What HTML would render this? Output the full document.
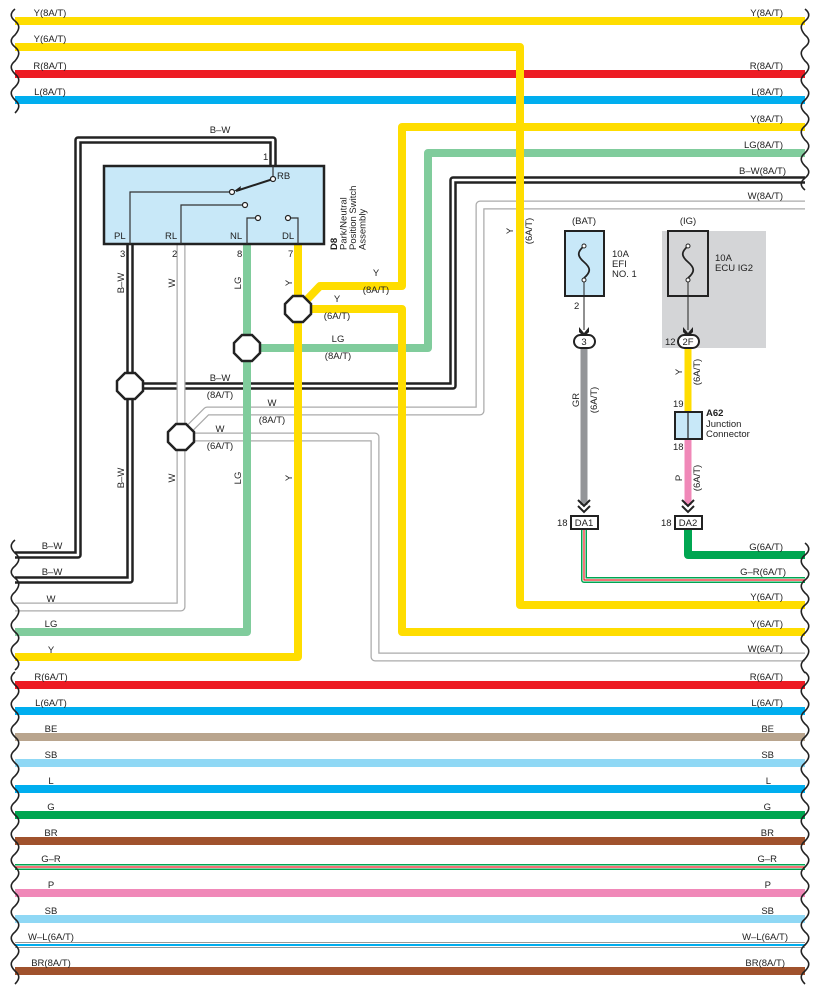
<!DOCTYPE html>
<html><head><meta charset="utf-8"><style>
body{margin:0;background:#fff}
svg{display:block}
text{font-family:"Liberation Sans",sans-serif;font-size:9.5px;fill:#222}
.b{font-weight:bold}
</style></head><body>
<svg width="817" height="993" viewBox="0 0 817 993" xmlns="http://www.w3.org/2000/svg">
<g fill="none" stroke-linejoin="round">
<path d="M15,21H805" stroke="#ffdd00" stroke-width="8"/>
<path d="M15,74H805" stroke="#ed1c24" stroke-width="8"/>
<path d="M15,100H805" stroke="#00aeef" stroke-width="8"/>
<path d="M15,685H805" stroke="#ed1c24" stroke-width="8"/>
<path d="M15,711H805" stroke="#00aeef" stroke-width="8"/>
<path d="M15,737H805" stroke="#b9a58e" stroke-width="8"/>
<path d="M15,763H805" stroke="#8fd8f5" stroke-width="8"/>
<path d="M15,789H805" stroke="#00aeef" stroke-width="8"/>
<path d="M15,815H805" stroke="#00a651" stroke-width="8"/>
<path d="M15,841H805" stroke="#a0522d" stroke-width="8"/>
<path d="M15,867H805" stroke="#00a651" stroke-width="6"/>
<path d="M15,867H805" stroke="#fff" stroke-width="3"/>
<path d="M15,867H805" stroke="#ed1c24" stroke-width="1.2"/>
<path d="M15,893H805" stroke="#f088b8" stroke-width="8"/>
<path d="M15,919H805" stroke="#8fd8f5" stroke-width="8"/>
<path d="M15,945H805" stroke="#999" stroke-width="6"/>
<path d="M15,945H805" stroke="#fff" stroke-width="4"/>
<path d="M15,945H805" stroke="#00aeef" stroke-width="2"/>
<path d="M15,971H805" stroke="#a0522d" stroke-width="8"/>

<path d="M273,166V140H78V555H15" stroke="#222" stroke-width="7.5"/>
<path d="M273,166V140H78V555H15" stroke="#fff" stroke-width="2.5"/>
<path d="M130,244V580H15" stroke="#222" stroke-width="7.5"/>
<path d="M130,244V580H15" stroke="#fff" stroke-width="2.5"/>
<path d="M130,386H453V180H805" stroke="#222" stroke-width="7.5"/>
<path d="M130,386H453V180H805" stroke="#fff" stroke-width="2.5"/>
<path d="M181,244V607H15" stroke="#aaa" stroke-width="9"/>
<path d="M181,244V607H15" stroke="#fff" stroke-width="6.5"/>
<path d="M181,437L207,411H480V205H805" stroke="#aaa" stroke-width="9"/>
<path d="M181,437L207,411H480V205H805" stroke="#fff" stroke-width="6.5"/>
<path d="M181,437H375V657H805" stroke="#aaa" stroke-width="9"/>
<path d="M181,437H375V657H805" stroke="#fff" stroke-width="6.5"/>
<path d="M247,244V632H15" stroke="#80cc9c" stroke-width="8"/>
<path d="M247,348H428V153H805" stroke="#80cc9c" stroke-width="8"/>
<path d="M298,244V657H15" stroke="#ffdd00" stroke-width="8"/>
<path d="M298,309L320,286H402V127H805" stroke="#ffdd00" stroke-width="8"/>
<path d="M298,309H402V632H805" stroke="#ffdd00" stroke-width="8"/>
<path d="M15,47H520V605H805" stroke="#ffdd00" stroke-width="8"/>

<path d="M584,347V505" stroke="#939598" stroke-width="7"/>
<path d="M688,347V412" stroke="#ffdd00" stroke-width="7"/>
<path d="M688,439V505" stroke="#f088b8" stroke-width="7"/>
<path d="M688,529V555H805" stroke="#00a651" stroke-width="8"/>
<path d="M584,529V580H805" stroke="#00a651" stroke-width="6"/>
<path d="M584,529V580H805" stroke="#fff" stroke-width="3"/>
<path d="M584,529V580H805" stroke="#ed1c24" stroke-width="1.2"/>
</g>

<rect x="104" y="166" width="220" height="78" fill="#c8e8f8" stroke="#222" stroke-width="2.5"/>
<g fill="none" stroke="#333" stroke-width="1.2">
<path d="M130,244V192H231"/>
<path d="M181,244V205H244"/>
<path d="M247,244V218H257"/>
<path d="M298,244V218H289"/>
<path d="M273,166V179"/>
</g>
<path d="M273,179L236,191" stroke="#222" stroke-width="2"/>
<path d="M234,191l7,-5l-1,5z" fill="#222"/>
<g fill="#fff" stroke="#222" stroke-width="1.2">
<circle cx="273" cy="179" r="2.5"/><circle cx="232" cy="192" r="2.5"/>
<circle cx="245" cy="205" r="2.5"/><circle cx="258" cy="218" r="2.5"/>
<circle cx="288" cy="218" r="2.5"/>
</g>
<text x="277" y="179">RB</text>
<text x="114" y="239">PL</text><text x="165" y="239">RL</text>
<text x="230" y="239">NL</text><text x="282" y="239">DL</text>
<text x="263" y="160">1</text>
<text x="120" y="257">3</text><text x="172" y="257">2</text>
<text x="237" y="257">8</text><text x="288" y="257">7</text>
<g transform="translate(337,250) rotate(-90)">
<text x="0" y="0" class="b">D8</text>
<text x="0" y="9.5">Park/Neutral</text>
<text x="0" y="19">Position Switch</text>
<text x="0" y="28.5">Assembly</text>
</g>

<g fill="#fff" stroke="#222" stroke-width="2.5">
<polygon points="293,296 303,296 311,304 311,314 303,322 293,322 285,314 285,304"/>
<polygon points="242,335 252,335 260,343 260,353 252,361 242,361 234,353 234,343"/>
<polygon points="125,373 135,373 143,381 143,391 135,399 125,399 117,391 117,381"/>
<polygon points="176,424 186,424 194,432 194,442 186,450 176,450 168,442 168,432"/>
</g>

<g text-anchor="middle">
<text x="220" y="133">B–W</text>
<text x="376" y="276">Y</text><text x="376" y="293">(8A/T)</text>
<text x="337" y="302">Y</text><text x="337" y="319">(6A/T)</text>
<text x="338" y="342">LG</text><text x="338" y="359">(8A/T)</text>
<text x="220" y="381">B–W</text><text x="220" y="398">(8A/T)</text>
<text x="272" y="406">W</text><text x="272" y="423">(8A/T)</text>
<text x="220" y="432">W</text><text x="220" y="449">(6A/T)</text>
</g>
<g text-anchor="middle">
<text transform="translate(124,283) rotate(-90)">B–W</text>
<text transform="translate(124,478) rotate(-90)">B–W</text>
<text transform="translate(175,283) rotate(-90)">W</text>
<text transform="translate(175,478) rotate(-90)">W</text>
<text transform="translate(241,283) rotate(-90)">LG</text>
<text transform="translate(241,478) rotate(-90)">LG</text>
<text transform="translate(292,283) rotate(-90)">Y</text>
<text transform="translate(292,478) rotate(-90)">Y</text>
<text transform="translate(513,231) rotate(-90)">Y</text>
<text transform="translate(532,231) rotate(-90)">(6A/T)</text>
<text transform="translate(579,400) rotate(-90)">GR</text>
<text transform="translate(597,400) rotate(-90)">(6A/T)</text>
<text transform="translate(682,372) rotate(-90)">Y</text>
<text transform="translate(700,372) rotate(-90)">(6A/T)</text>
<text transform="translate(682,478) rotate(-90)">P</text>
<text transform="translate(700,478) rotate(-90)">(6A/T)</text>
</g>

<text x="584" y="224" text-anchor="middle">(BAT)</text>
<rect x="565" y="231" width="39" height="65" fill="#c8e8f8" stroke="#222" stroke-width="2"/>
<path d="M584,246c-7,6 -7,10 0,16c7,6 7,10 0,16" fill="none" stroke="#222" stroke-width="1.8"/>
<circle cx="584" cy="246" r="2" fill="#fff" stroke="#222"/><circle cx="584" cy="280" r="2" fill="#fff" stroke="#222"/>
<text x="612" y="257">10A</text><text x="612" y="267">EFI</text><text x="612" y="277">NO. 1</text>
<path d="M584,282V330" stroke="#222" stroke-width="1"/>
<text x="574" y="309">2</text>
<rect x="662" y="231" width="104" height="117" fill="#d4d5d7"/>
<text x="688" y="224" text-anchor="middle">(IG)</text>
<rect x="668" y="231" width="40" height="65" fill="#d4d5d7" stroke="#222" stroke-width="2"/>
<path d="M688,246c-7,6 -7,10 0,16c7,6 7,10 0,16" fill="none" stroke="#222" stroke-width="1.8"/>
<circle cx="688" cy="246" r="2" fill="#fff" stroke="#222"/><circle cx="688" cy="280" r="2" fill="#fff" stroke="#222"/>
<text x="715" y="261">10A</text><text x="715" y="271">ECU IG2</text>
<path d="M688,282V330" stroke="#222" stroke-width="1"/>
<path d="M579,327l5,6l5,-6l0,5l-5,5l-5,-5z" fill="#222"/>
<path d="M683,327l5,6l5,-6l0,5l-5,5l-5,-5z" fill="#222"/>
<rect x="574" y="335" width="21" height="13" rx="6.5" fill="#fff" stroke="#222" stroke-width="2"/>
<text x="584" y="345" text-anchor="middle">3</text>
<rect x="678" y="335" width="21" height="13" rx="6.5" fill="#fff" stroke="#222" stroke-width="2"/>
<text x="688" y="345" text-anchor="middle">2F</text>
<text x="665" y="345">12</text>
<rect x="675" y="412" width="27" height="27" fill="#c8e8f8" stroke="#222" stroke-width="2"/>
<path d="M688,412V439" stroke="#222" stroke-width="1.2"/>
<text x="673" y="407">19</text><text x="673" y="450">18</text>
<text x="706" y="416" class="b">A62</text><text x="706" y="427">Junction</text><text x="706" y="437">Connector</text>
<g fill="none" stroke="#222" stroke-width="2">
<path d="M578,500l6,6l6,-6M578,506l6,6l6,-6"/>
<path d="M682,500l6,6l6,-6M682,506l6,6l6,-6"/>
</g>
<rect x="571" y="516" width="27" height="13" fill="#fff" stroke="#222" stroke-width="2"/>
<text x="584" y="526" text-anchor="middle">DA1</text>
<rect x="675" y="516" width="27" height="13" fill="#fff" stroke="#222" stroke-width="2"/>
<text x="688" y="526" text-anchor="middle">DA2</text>
<text x="557" y="526">18</text><text x="661" y="526">18</text>

<g text-anchor="middle">
<text x="50" y="16">Y(8A/T)</text><text x="50" y="42">Y(6A/T)</text>
<text x="50" y="69">R(8A/T)</text><text x="50" y="95">L(8A/T)</text>
<text x="52" y="549">B–W</text><text x="52" y="575">B–W</text>
<text x="51" y="602">W</text><text x="51" y="627">LG</text><text x="51" y="653">Y</text>
<text x="51" y="680">R(6A/T)</text><text x="51" y="706">L(6A/T)</text>
<text x="51" y="732">BE</text><text x="51" y="758">SB</text><text x="51" y="784">L</text>
<text x="51" y="810">G</text><text x="51" y="836">BR</text><text x="51" y="862">G–R</text>
<text x="51" y="888">P</text><text x="51" y="914">SB</text>
<text x="51" y="940">W–L(6A/T)</text><text x="51" y="966">BR(8A/T)</text>
</g>
<g text-anchor="end">
<text x="783" y="16">Y(8A/T)</text><text x="783" y="69">R(8A/T)</text><text x="783" y="95">L(8A/T)</text>
<text x="783" y="122">Y(8A/T)</text><text x="783" y="148">LG(8A/T)</text>
<text x="786" y="174">B–W(8A/T)</text><text x="783" y="199">W(8A/T)</text>
<text x="783" y="550">G(6A/T)</text><text x="786" y="575">G–R(6A/T)</text>
<text x="783" y="600">Y(6A/T)</text><text x="783" y="627">Y(6A/T)</text><text x="783" y="652">W(6A/T)</text>
<text x="783" y="680">R(6A/T)</text><text x="783" y="706">L(6A/T)</text>
<text x="774" y="732">BE</text><text x="774" y="758">SB</text><text x="771" y="784">L</text>
<text x="771" y="810">G</text><text x="774" y="836">BR</text><text x="777" y="862">G–R</text>
<text x="771" y="888">P</text><text x="774" y="914">SB</text>
<text x="788" y="940">W–L(6A/T)</text><text x="785" y="966">BR(8A/T)</text>
</g>

<g fill="none" stroke="#222" stroke-width="1.6">
<path d="M15,9c-5,4 -5,8 0,12c5,4 5,8 0,14c-5,4 -5,8 0,12c5,4 5,8 0,14c-5,4 -5,8 0,13c5,4 5,8 0,13c-5,4 -5,8 0,13c5,4 5,8 0,13"/>
<path d="M15,540c-5,4 -5,8 0,13c5,4 5,8 0,13c-5,4 -5,8 0,12c5,4 5,8 0,14c-5,4 -5,8 0,13c5,4 5,8 0,14c-5,4 -5,8 0,13c5,4 5,8 0,12c-5,4 -5,8 0,14c5,4 5,8 0,12"/>
<path d="M15,672c-5,4 -5,8 0,13c5,4 5,8 0,13 c-5,4 -5,8 0,13c5,4 5,8 0,13 c-5,4 -5,8 0,13c5,4 5,8 0,13 c-5,4 -5,8 0,13c5,4 5,8 0,13 c-5,4 -5,8 0,13c5,4 5,8 0,13 c-5,4 -5,8 0,13c5,4 5,8 0,13 c-5,4 -5,8 0,13c5,4 5,8 0,13 c-5,4 -5,8 0,13c5,4 5,8 0,13 c-5,4 -5,8 0,13c5,4 5,8 0,13 c-5,4 -5,8 0,13c5,4 5,8 0,13 c-5,4 -5,8 0,13c5,4 5,8 0,13 c-5,4 -5,8 0,13c5,4 5,8 0,13"/>
<path d="M805,9c5,4 5,8 0,12c-5,4 -5,8 0,14c5,4 5,8 0,12c-5,4 -5,8 0,14c5,4 5,8 0,13c-5,4 -5,8 0,13c5,4 5,8 0,13c-5,4 -5,8 0,13c5,4 5,8 0,13c-5,4 -5,8 0,14c5,4 5,8 0,13c-5,4 -5,8 0,13c5,4 5,8 0,12c-5,4 -5,8 0,12"/>
<path d="M805,543c5,4 5,8 0,12c-5,4 -5,8 0,13c5,4 5,8 0,12c-5,4 -5,8 0,13c5,4 5,8 0,12c-5,4 -5,8 0,15c5,4 5,8 0,13c-5,4 -5,8 0,12c5,4 5,8 0,14c-5,4 -5,8 0,14"/>
<path d="M805,672c5,4 5,8 0,13c-5,4 -5,8 0,13 c5,4 5,8 0,13c-5,4 -5,8 0,13 c5,4 5,8 0,13c-5,4 -5,8 0,13 c5,4 5,8 0,13c-5,4 -5,8 0,13 c5,4 5,8 0,13c-5,4 -5,8 0,13 c5,4 5,8 0,13c-5,4 -5,8 0,13 c5,4 5,8 0,13c-5,4 -5,8 0,13 c5,4 5,8 0,13c-5,4 -5,8 0,13 c5,4 5,8 0,13c-5,4 -5,8 0,13 c5,4 5,8 0,13c-5,4 -5,8 0,13 c5,4 5,8 0,13c-5,4 -5,8 0,13 c5,4 5,8 0,13c-5,4 -5,8 0,13"/>
</g>
</svg>
</body></html>
